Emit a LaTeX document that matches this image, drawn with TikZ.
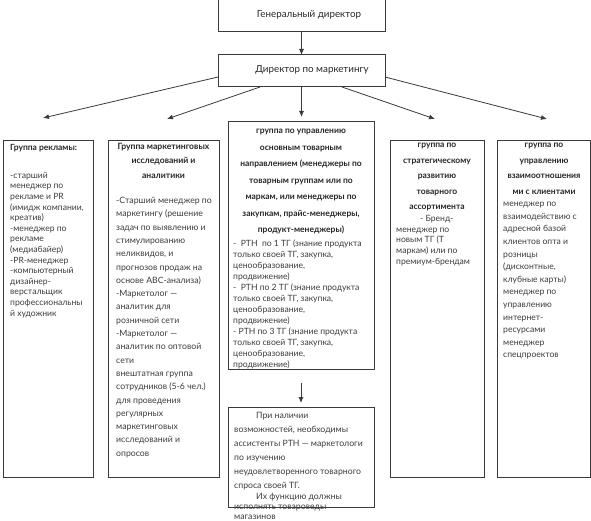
\documentclass[tikz,border=0pt]{standalone}
\usepackage{fontspec}
\setmainfont{Lato}
\usetikzlibrary{arrows.meta}
\definecolor{linec}{HTML}{3A3A3A}
\definecolor{txtc}{HTML}{3C3C3C}
\definecolor{hdrc}{HTML}{262626}
\begin{document}
\begin{tikzpicture}[x=1pt,y=-1pt,
  box/.style={draw=linec, line width=1pt, anchor=north west, inner sep=0pt, outer sep=0pt},
  arr/.style={draw=linec, line width=0.8pt, -{Latex[length=6pt,width=5pt]}},
  ttl/.style={text=hdrc, inner sep=0pt, font=\fontsize{9.8}{12}\selectfont},
  hdr/.style={text=hdrc, inner sep=0pt, anchor=north, align=center},
  bodyt/.style={text=txtc, inner sep=0pt, anchor=north west, align=left}]
\useasboundingbox (0,0) rectangle (591,521);

% top boxes
\node[box, minimum width=167pt, minimum height=33pt] (gd) at (218,-1) {};
\node[ttl] (gdt) at (309,15) {Генеральный директор};
\node[box, minimum width=167pt, minimum height=32pt] (md) at (218,55) {};
\node[ttl] (mdt) at (312,70) {Директор по маркетингу};

% group boxes
\node[box, minimum width=90pt,  minimum height=336pt] (b1) at (3,141) {};
\node[box, minimum width=111pt, minimum height=336pt] (b2) at (108,141) {};
\node[box, minimum width=146pt, minimum height=247pt] (b3) at (228,122) {};
\node[box, minimum width=94pt,  minimum height=336pt] (b4) at (390,141) {};
\node[box, minimum width=93pt,  minimum height=336pt] (b5) at (497,141) {};
\node[box, minimum width=146pt, minimum height=100pt] (b6) at (228,407) {};

% arrow ends
\coordinate (p1) at (43,118);
\coordinate (p2) at (167,119);
\coordinate (p3) at (301.5,117);
\coordinate (p4) at (435,119);
\coordinate (p5) at (547,119);

\draw[arr] (gd.south) -- (md.north);
\draw[arr] ([yshift=-6pt]md.west) -- (p1);
\draw[arr] ([xshift=42pt]md.south west) -- (p2);
\draw[arr] (md.south) -- (p3);
\draw[arr] ([xshift=124pt]md.south west) -- (p4);
\draw[arr] ([yshift=-6pt]md.east) -- (p5);
\draw[arr] ([yshift=-14pt]b3.south) -- ([yshift=4pt]b6.north);

% box 1
\node[bodyt, font=\fontsize{8.5}{10.5}\bfseries\selectfont, text=hdrc] (h1) at (10,144) {Группа рекламы:};
\node[bodyt, font=\fontsize{8.6}{10.6}\selectfont] (t1) at (10,172) {-старший\\менеджер по\\рекламе и PR\\(имидж компании,\\креатив)\\-менеджер по\\рекламе\\(медиабайер)\\-PR-менеджер\\-компьютерный\\дизайнер-\\верстальщик\\профессиональны\\й художник};

% box 2
\node[hdr, font=\fontsize{8.6}{14.5}\bfseries\selectfont] (h2) at (163.5,143) {Группа маркетинговых\\исследований и\\аналитики};
\node[bodyt, font=\fontsize{8.7}{13.3}\selectfont] (t2) at (116,197) {-Старший менеджер по\\маркетингу (решение\\задач по выявлению и\\стимулированию\\неликвидов, и\\прогнозов продаж на\\основе АВС-анализа)\\-Маркетолог —\\аналитик для\\розничной сети\\-Маркетолог —\\аналитик по оптовой\\сети\\внештатная группа\\сотрудников (5-6 чел.)\\для проведения\\регулярных\\маркетинговых\\исследований и\\опросов};

% box 3
\node[hdr, font=\fontsize{8.5}{16.5}\bfseries\selectfont] (h3) at (301,129) {группа по управлению\\основным товарным\\направлением (менеджеры по\\товарным группам или по\\маркам, или менеджеры по\\закупкам, прайс-менеджеры,\\продукт-менеджеры)};
\node[bodyt, font=\fontsize{8.6}{11}\selectfont] (t3) at (233,240) {-\ \ РТН\ \ по 1 ТГ (знание продукта\\только своей ТГ, закупка,\\ценообразование,\\продвижение)\\-\ \ РТН по 2 ТГ (знание продукта\\только своей ТГ, закупка,\\ценообразование,\\продвижение)\\- РТН по 3 ТГ (знание продукта\\только своей ТГ, закупка,\\ценообразование,\\продвижение)};

% box 4
\node[hdr, font=\fontsize{8.5}{15.5}\bfseries\selectfont] (h4) at (437,143) {группа по\\стратегическому\\развитию\\товарного\\ассортимента};
\node[bodyt, font=\fontsize{8.6}{10.8}\selectfont] (t4) at (396,215) {\hspace*{24pt}- Бренд-\\менеджер по\\новым ТГ (Т\\маркам) или по\\премиум-брендам};

% box 5
\node[hdr, font=\fontsize{8.5}{15.5}\bfseries\selectfont] (h5) at (544,143) {группа по\\управлению\\взаимоотношения\\ми с клиентами};
\node[bodyt, font=\fontsize{8.6}{12.6}\selectfont] (t5) at (503,202) {менеджер по\\взаимодействию с\\адресной базой\\клиентов опта и\\розницы\\(дисконтные,\\клубные карты)\\менеджер по\\управлению\\интернет-\\ресурсами\\менеджер\\спецпроектов};

% box 6
\node[bodyt, font=\fontsize{8.7}{14}\selectfont] (t6) at (234,412) {\hspace*{22pt}При наличии\\возможностей, необходимы\\ассистенты РТН — маркетологи\\по изучению\\неудовлетворенного товарного\\спроса своей ТГ.\\[-3pt]\hspace*{22pt}Их функцию должны\\[-4pt]исполнять товароведы\\[-4pt]магазинов};
\end{tikzpicture}
\end{document}
